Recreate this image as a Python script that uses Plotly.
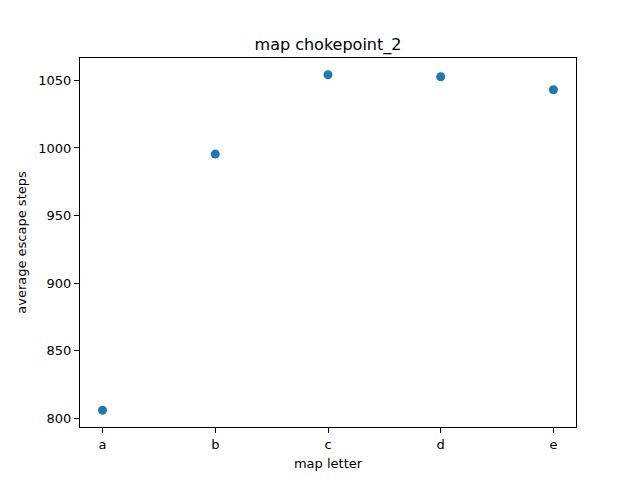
import plotly.graph_objects as go

# data
map_letters = ["a", "b", "c", "d", "e"]
avg_escape_steps = [805.9, 995.5, 1054.2, 1052.7, 1043.1]
y_ticks = [800, 850, 900, 950, 1000, 1050]

FONT = "DejaVu Sans"

fig = go.Figure(
    go.Scatter(
        x=list(range(len(map_letters))),
        y=avg_escape_steps,
        mode="markers",
        marker=dict(color="#1f77b4", size=9, line=dict(width=0)),
    )
)

axis_style = dict(
    showgrid=False,
    zeroline=False,
    showline=True,
    linecolor="black",
    linewidth=1,
    mirror=True,
    ticks="outside",
    ticklen=5,
    tickwidth=1,
    tickcolor="black",
    tickfont=dict(family=FONT, size=13, color="black"),
)

# the page body adds an 8px margin, so the plot area is pulled back by that much
fig.update_layout(
    width=640,
    height=480,
    margin=dict(l=72, r=72, t=50, b=61),
    paper_bgcolor="white",
    plot_bgcolor="white",
    showlegend=False,
    title=dict(
        text="map chokepoint_2",
        x=(72 + 248) / 640,
        xanchor="center",
        y=1 - 36 / 480,
        yanchor="middle",
        font=dict(family=FONT, size=16, color="black"),
    ),
    xaxis=dict(
        axis_style,
        range=[-0.2, 4.2],
        tickvals=list(range(len(map_letters))),
        ticktext=map_letters,
        title=dict(text="map letter", font=dict(family=FONT, size=13, color="black"), standoff=8),
    ),
    yaxis=dict(
        axis_style,
        range=[793.5, 1066.6],
        tickvals=y_ticks,
        title=dict(text="average escape steps", font=dict(family=FONT, size=13, color="black"), standoff=8),
    ),
)

fig.write_html("out.html")
